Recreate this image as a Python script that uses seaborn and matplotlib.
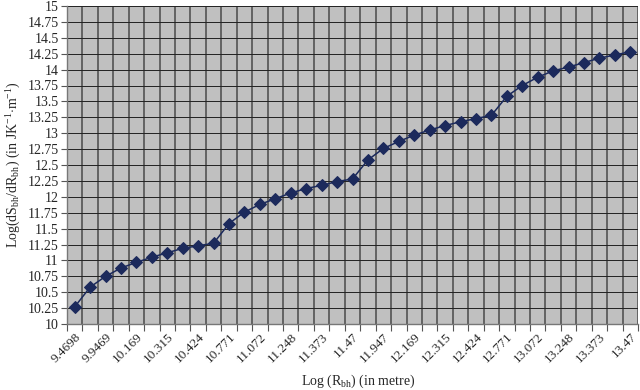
import numpy as np
import pandas as pd
import matplotlib
matplotlib.use("Agg")
import matplotlib.pyplot as plt
import seaborn as sns

# category labels of the x axis (Log R_bh), only every other one is printed
log_rbh = ["9.4698", "9.7709", "9.9469", "10.072", "10.169", "10.248", "10.315",
           "10.373", "10.424", "10.47", "10.771", "10.947", "11.072", "11.169",
           "11.248", "11.315", "11.373", "11.424", "11.47", "11.771", "11.947",
           "12.072", "12.169", "12.248", "12.315", "12.373", "12.424", "12.47",
           "12.771", "12.947", "13.072", "13.169", "13.248", "13.315", "13.373",
           "13.424", "13.47"]

# Log(dS_bh/dR_bh)
log_dsdr = [10.27, 10.58, 10.75, 10.88, 10.97, 11.05, 11.12, 11.19, 11.23, 11.27,
            11.58, 11.76, 11.88, 11.97, 12.06, 12.13, 12.18, 12.24, 12.28,
            12.58, 12.76, 12.87, 12.97, 13.05, 13.12, 13.18, 13.23, 13.28,
            13.58, 13.75, 13.88, 13.98, 14.04, 14.11, 14.18, 14.23, 14.28]

y_ticks = [10 + 0.25 * k for k in range(21)]

df = pd.DataFrame({"pos": np.arange(len(log_rbh)), "label": log_rbh, "val": log_dsdr})

sns.set_theme(style="white")
plt.rcParams['font.family'] = ['Liberation Serif', 'DejaVu Serif']
plt.rcParams['mathtext.fontset'] = 'custom'
plt.rcParams['mathtext.rm'] = 'Liberation Serif'
plt.rcParams['mathtext.it'] = 'Liberation Serif:italic'

fig = plt.figure(figsize=(6.4, 3.9), dpi=100)
ax = fig.add_axes([67 / 640, 1 - 324 / 390, (638 - 67) / 640, (324 - 6) / 390])
ax.set_facecolor('#c0c0c0')

navy = '#1c2a5c'
sns.lineplot(data=df, x="pos", y="val", ax=ax, color=navy, linewidth=1.1,
             marker='D', markersize=6, markeredgecolor=navy, markerfacecolor=navy)

n = len(log_rbh)
ax.set_xlim(-0.5, n - 0.5)
ax.set_ylim(10, 15)

# labels on every other category, tick marks on category boundaries
ax.set_xticks(df["pos"][::2])
ax.set_xticklabels(df["label"][::2], rotation=45, ha='right', rotation_mode='anchor', fontsize=9.5)
ax.set_xticks(np.arange(n + 1) - 0.5, minor=True)
ax.tick_params(axis='x', which='major', length=0, pad=5)
ax.tick_params(axis='x', which='minor', length=5, width=0.8, color='#555555', direction='out', bottom=True)

ax.set_yticks(y_ticks)
ax.set_yticklabels([f"{v:g}" for v in y_ticks], fontsize=10)
ax.tick_params(axis='y', length=4, width=0.8, color='#555555', direction='out', left=True, pad=2)

ax.grid(False)
for xv in np.arange(n + 1) - 0.5:
    ax.axvline(xv, color='#4a4a4a', linewidth=1.1, zorder=1)
for yv in y_ticks:
    ax.axhline(yv, color='#222222', linewidth=0.7, zorder=1)

for s in ['top', 'right']:
    ax.spines[s].set_visible(False)
for s in ['left', 'bottom']:
    ax.spines[s].set_color('#777777')
    ax.spines[s].set_linewidth(1.0)

ax.set_xlabel("")
fig.text(358 / 640, 1 - 381 / 390, r"Log (R$_{\mathregular{bh}}$) (in metre)", fontsize=10,
         ha='center', va='center')
ax.set_ylabel(r"Log(dS$_{\mathregular{bh}}$/dR$_{\mathregular{bh}}$) (in JK$^{\mathregular{-1}}$$\cdot$m$^{\mathregular{-1}}$)",
              fontsize=10, labelpad=3)

fig.savefig("out.png", dpi=100)
